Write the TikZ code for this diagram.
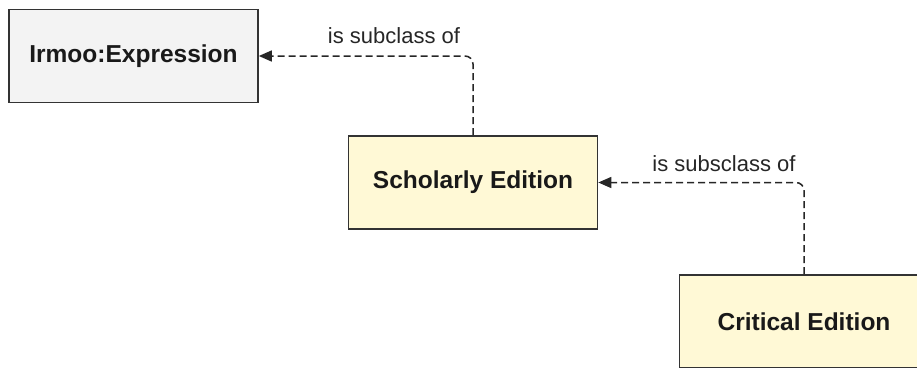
\documentclass[tikz,border=0pt]{standalone}
\usepackage{fontspec}
\setmainfont{Liberation Sans}
\usetikzlibrary{arrows.meta}
\definecolor{boxline}{HTML}{333333}
\definecolor{grayfill}{HTML}{F3F3F3}
\definecolor{yellowfill}{HTML}{FFF9D6}
\tikzset{
  classbox/.style={draw=boxline, line width=1.6pt, minimum width=249pt, minimum height=93pt,
    inner sep=0pt, font=\fontsize{24.5}{28}\selectfont\bfseries, text=black!90},
  relarrow/.style={draw=black!85, line width=1.5pt, dash pattern=on 7pt off 4pt,
    rounded corners=8pt, -{Triangle[length=13pt,width=11pt]}},
  rellabel/.style={font=\fontsize{22}{26}\selectfont, text=black!85, inner sep=0pt}
}
\begin{document}
\begin{tikzpicture}[x=1pt,y=-1pt]
\useasboundingbox (0,0) rectangle (917,367);
\node[classbox, fill=grayfill] (expr) at (133.5,56) {Irmoo:Expression};
\node[classbox, fill=yellowfill] (schol) at (473,182.5) {Scholarly Edition};
\node[classbox, fill=yellowfill] (crit) at (804,321.5) {Critical Edition};
\draw[relarrow] (schol.north) |- (expr.east);
\draw[relarrow] (crit.north) |- (schol.east);
\node[rellabel, anchor=base] (l1) at (394,43) {is subclass of};
\node[rellabel, anchor=base] (l2) at (724,171) {is subsclass of};
\end{tikzpicture}
\end{document}
